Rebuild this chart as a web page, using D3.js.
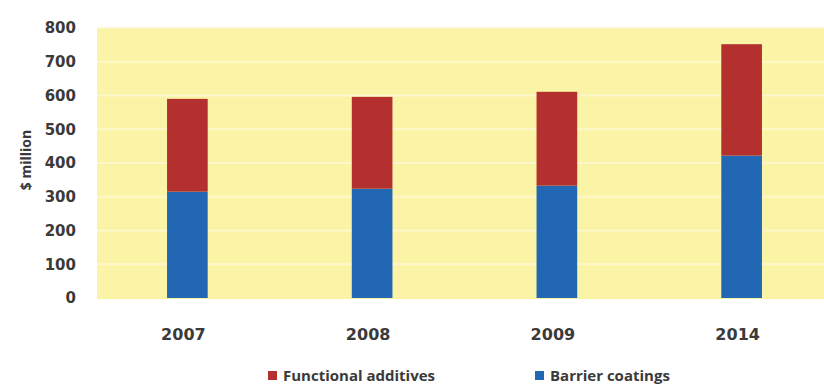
<!DOCTYPE html>
<html>
<head>
<meta charset="utf-8">
<script src="https://cdn.jsdelivr.net/npm/d3@7"></script>
<style>
  body { margin: 0; background: #fff; }
  svg { display: block; }
</style>
</head>
<body>
<svg id="chart" width="824" height="384"></svg>
<script>
// chart values
const years = ["2007", "2008", "2009", "2014"];
const barrierCoatings = [315, 324, 333, 422];
const functionalAdditives = [275, 272, 278, 330];
const yTicks = [0, 100, 200, 300, 400, 500, 600, 700, 800];

const width = 824, height = 384;
const plot = { left: 97, right: 834, top: 28, bottom: 298 };

const svg = d3.select("#chart");

const x = d3.scaleBand()
    .domain(years)
    .range([95, 834])
    .paddingInner(0.78)
    .paddingOuter(0.39);

const y = d3.scaleLinear()
    .domain([0, 800])
    .range([plot.bottom, plot.top]);

const blue = "#2167b4";
const red = "#b3302f";
const textColor = "#3a3a3a";
const fontFam = "'DejaVu Sans', sans-serif";
const labelFont = "'Open Sans', sans-serif";

// yellow plot background
svg.append("rect")
    .attr("x", plot.left)
    .attr("y", plot.top - 1)
    .attr("width", width - plot.left)
    .attr("height", plot.bottom - plot.top + 2)
    .attr("fill", "#fbf3a6");

// light gridlines
svg.append("g")
    .selectAll("line")
    .data(yTicks.slice(1))
    .enter()
    .append("line")
    .attr("x1", plot.left)
    .attr("x2", width)
    .attr("y1", d => y(d))
    .attr("y2", d => y(d))
    .attr("stroke", "#fdf8cc")
    .attr("stroke-width", 2);

// stacked data
const rows = years.map((yr, i) => ({
    year: yr,
    barrier: barrierCoatings[i],
    functional: functionalAdditives[i]
}));
const stack = d3.stack().keys(["barrier", "functional"]);
const series = stack(rows);
const color = d3.scaleOrdinal().domain(["barrier", "functional"]).range([blue, red]);

svg.append("g")
    .selectAll("g")
    .data(series)
    .enter()
    .append("g")
    .attr("fill", d => color(d.key))
    .selectAll("rect")
    .data(d => d)
    .enter()
    .append("rect")
    .attr("x", d => x(d.data.year))
    .attr("y", d => y(d[1]))
    .attr("width", x.bandwidth())
    .attr("height", d => y(d[0]) - y(d[1]));

// y axis labels
const yAxis = svg.append("g")
    .attr("transform", `translate(${plot.left - 8},0)`)
    .call(d3.axisLeft(y).tickValues(yTicks).tickSize(0).tickPadding(13));
yAxis.select(".domain").remove();
yAxis.selectAll("text")
    .attr("font-family", fontFam)
    .attr("font-size", 15)
    .attr("font-weight", 700)
    .attr("fill", textColor);

svg.append("text")
    .attr("transform", `translate(31,160) rotate(-90)`)
    .attr("text-anchor", "middle")
    .attr("font-family", labelFont)
    .attr("font-size", 14)
    .attr("font-weight", 700)
    .attr("fill", textColor)
    .text("$ million");

// x axis labels
const xAxis = svg.append("g")
    .attr("transform", `translate(-4,${plot.bottom + 31})`)
    .call(d3.axisBottom(x).tickSize(0).tickPadding(0));
xAxis.select(".domain").remove();
xAxis.selectAll("text")
    .attr("font-family", fontFam)
    .attr("font-size", 16)
    .attr("font-weight", 700)
    .attr("fill", textColor);

// legend
const legendItems = [
    { label: "Functional additives", color: red, x: 268 },
    { label: "Barrier coatings", color: blue, x: 535 }
];
const legend = svg.append("g")
    .selectAll("g")
    .data(legendItems)
    .enter()
    .append("g")
    .attr("transform", d => `translate(${d.x},381)`);
legend.append("rect")
    .attr("x", 0)
    .attr("y", -10)
    .attr("width", 9)
    .attr("height", 9)
    .attr("fill", d => d.color);
legend.append("text")
    .attr("x", 15)
    .attr("y", 0)
    .attr("font-family", labelFont)
    .attr("font-size", 15)
    .attr("font-weight", 700)
    .attr("fill", textColor)
    .text(d => d.label);
</script>
</body>
</html>
